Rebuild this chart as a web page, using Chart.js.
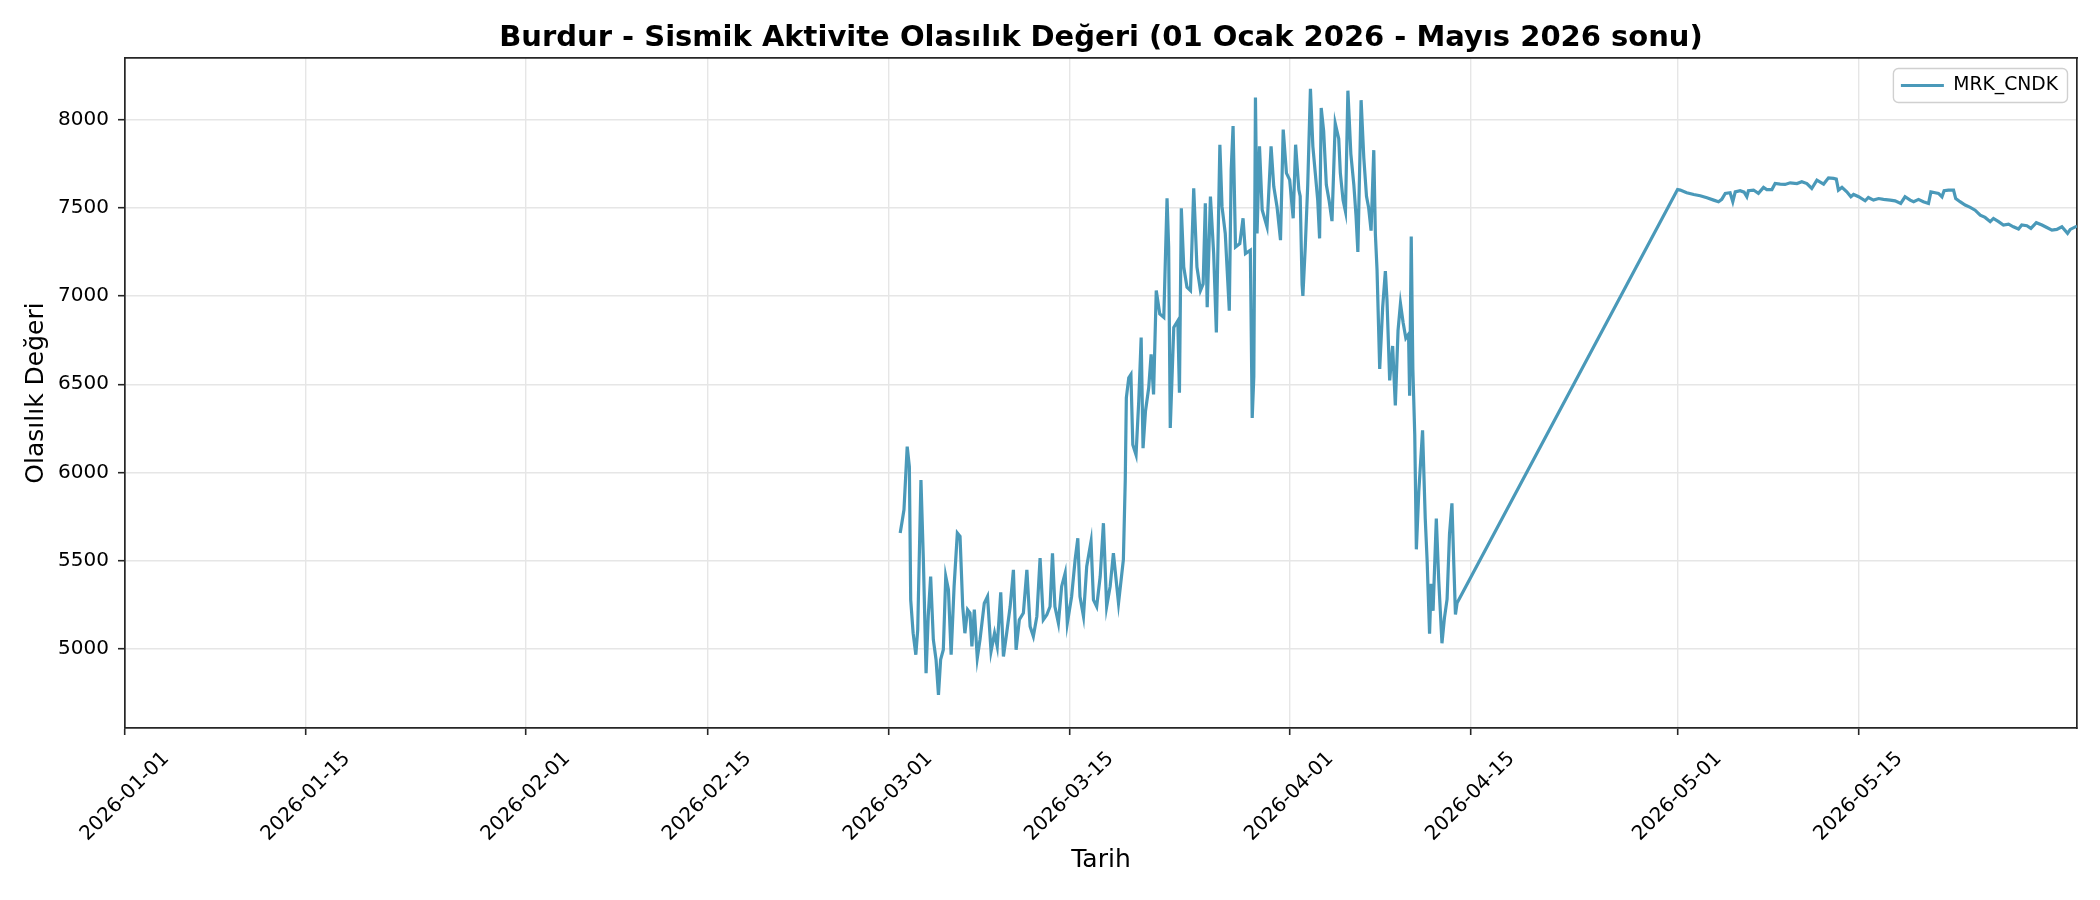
<!DOCTYPE html>
<html><head><meta charset="utf-8">
<script src="https://cdn.jsdelivr.net/npm/chart.js@4.4.0/dist/chart.umd.min.js"></script>
<style>html,body{margin:0;padding:0;background:#fff;}canvas{display:block}</style>
</head><body>
<canvas id="c" width="2100" height="900" style="width:2100px;height:900px"></canvas>
<script>
const chartTitle = 'Burdur - Sismik Aktivite Olasılık Değeri (01 Ocak 2026 - Mayıs 2026 sonu)';
const seriesName = 'MRK_CNDK';
const xAxisTitle = 'Tarih';
const yAxisTitle = 'Olasılık Değeri';
const xTickLabels = ['2026-01-01','2026-01-15','2026-02-01','2026-02-15','2026-03-01','2026-03-15','2026-04-01','2026-04-15','2026-05-01','2026-05-15'];
const yTickValues = [5000,5500,6000,6500,7000,7500,8000];
const xStart = '2026-01-01T00:00';
const yRange = [4553, 8348];

const times = [
'2026-03-01T22:00','2026-03-02T01:00','2026-03-02T05:00','2026-03-02T11:00','2026-03-02T15:00','2026-03-02T17:30','2026-03-02T22:00',
'2026-03-03T03:00','2026-03-03T06:30','2026-03-03T12:30','2026-03-03T17:00','2026-03-03T22:00',
'2026-03-04T02:00','2026-03-04T06:30','2026-03-04T11:30','2026-03-04T16:30','2026-03-04T21:00',
'2026-03-05T01:00','2026-03-05T06:00','2026-03-05T10:30','2026-03-05T15:30','2026-03-05T20:30',
'2026-03-06T02:00','2026-03-06T08:00','2026-03-06T13:00','2026-03-06T18:00','2026-03-06T22:00',
'2026-03-07T03:00','2026-03-07T07:30','2026-03-07T11:00','2026-03-07T15:30','2026-03-07T21:00',
'2026-03-08T02:00','2026-03-08T10:00','2026-03-08T16:00','2026-03-08T22:30',
'2026-03-09T05:00','2026-03-09T10:00','2026-03-09T16:30','2026-03-09T21:30',
'2026-03-10T03:30','2026-03-10T10:00','2026-03-10T16:00','2026-03-10T21:00',
'2026-03-11T03:00','2026-03-11T10:30','2026-03-11T17:00','2026-03-11T23:00',
'2026-03-12T05:00','2026-03-12T11:30','2026-03-12T17:30','2026-03-12T23:30',
'2026-03-13T06:00','2026-03-13T12:00','2026-03-13T16:30','2026-03-13T21:00',
'2026-03-14T03:30','2026-03-14T09:30','2026-03-14T16:00','2026-03-14T20:00',
'2026-03-15T04:00','2026-03-15T10:30','2026-03-15T15:30','2026-03-15T19:30',
'2026-03-16T02:00','2026-03-16T08:00','2026-03-16T16:00','2026-03-16T20:30',
'2026-03-17T02:30','2026-03-17T09:00','2026-03-17T15:00','2026-03-17T21:00',
'2026-03-18T03:30','2026-03-18T09:30','2026-03-18T19:00',
'2026-03-19T04:00','2026-03-19T07:30','2026-03-19T09:30','2026-03-19T14:00','2026-03-19T18:00','2026-03-19T21:30',
'2026-03-20T03:30','2026-03-20T08:30','2026-03-20T13:00','2026-03-20T16:30','2026-03-20T21:00',
'2026-03-21T03:00','2026-03-21T07:30','2026-03-21T12:00','2026-03-21T17:00','2026-03-21T23:30',
'2026-03-22T07:00','2026-03-22T13:00','2026-03-22T16:00','2026-03-22T19:00',
'2026-03-23T01:30','2026-03-23T09:00','2026-03-23T12:00','2026-03-23T15:30','2026-03-23T20:00',
'2026-03-24T02:00','2026-03-24T08:30','2026-03-24T14:30','2026-03-24T20:30',
'2026-03-25T03:00','2026-03-25T08:00','2026-03-25T12:00','2026-03-25T15:30','2026-03-25T21:30',
'2026-03-26T03:30','2026-03-26T08:30','2026-03-26T15:00','2026-03-26T19:00',
'2026-03-27T01:00','2026-03-27T08:30','2026-03-27T12:00','2026-03-27T15:30','2026-03-27T20:00',
'2026-03-28T04:00','2026-03-28T10:00','2026-03-28T14:30','2026-03-28T23:30',
'2026-03-29T03:00','2026-03-29T06:00','2026-03-29T09:00','2026-03-29T12:00','2026-03-29T16:30','2026-03-29T21:30',
'2026-03-30T06:30','2026-03-30T14:00','2026-03-30T19:00',
'2026-03-31T01:00','2026-03-31T07:30','2026-03-31T12:30','2026-03-31T18:30',
'2026-04-01T00:30','2026-04-01T07:00','2026-04-01T11:30','2026-04-01T17:30','2026-04-01T20:00','2026-04-01T23:30',
'2026-04-02T01:00','2026-04-02T05:30','2026-04-02T10:00','2026-04-02T15:00','2026-04-02T19:30',
'2026-04-03T00:00','2026-04-03T04:30','2026-04-03T08:00','2026-04-03T11:00','2026-04-03T15:30','2026-04-03T20:30',
'2026-04-04T01:30','2026-04-04T07:00','2026-04-04T13:00','2026-04-04T19:30','2026-04-04T22:30',
'2026-04-05T03:30','2026-04-05T08:00','2026-04-05T12:30','2026-04-05T18:00','2026-04-05T23:30',
'2026-04-06T03:30','2026-04-06T07:00','2026-04-06T13:00','2026-04-06T18:00','2026-04-06T23:00',
'2026-04-07T03:00','2026-04-07T07:30','2026-04-07T12:30','2026-04-07T15:30','2026-04-07T18:30','2026-04-07T23:30',
'2026-04-08T05:00','2026-04-08T10:00','2026-04-08T13:00','2026-04-08T18:00','2026-04-08T23:30',
'2026-04-09T04:30','2026-04-09T09:30','2026-04-09T14:00','2026-04-09T19:00',
'2026-04-10T00:00','2026-04-10T05:00','2026-04-10T07:00','2026-04-10T10:00','2026-04-10T13:00','2026-04-10T16:30','2026-04-10T19:30',
'2026-04-11T00:00','2026-04-11T07:00','2026-04-11T12:00','2026-04-11T15:30','2026-04-11T20:00','2026-04-11T23:00',
'2026-04-12T02:30','2026-04-12T08:30','2026-04-12T13:00','2026-04-12T19:00','2026-04-12T23:30',
'2026-04-13T04:30','2026-04-13T09:00','2026-04-13T13:30','2026-04-13T17:00','2026-04-13T20:00','2026-04-13T23:00',
'2026-05-01T00:00','2026-05-01T05:00','2026-05-01T17:00','2026-05-02T06:00','2026-05-02T18:00',
'2026-05-03T06:30','2026-05-03T19:00','2026-05-04T04:00','2026-05-04T10:00','2026-05-04T16:30',
'2026-05-05T01:30','2026-05-05T06:30','2026-05-05T11:00','2026-05-05T20:00',
'2026-05-06T03:30','2026-05-06T08:30','2026-05-06T11:30','2026-05-06T21:00',
'2026-05-07T06:00','2026-05-07T15:30','2026-05-07T21:30','2026-05-08T07:00','2026-05-08T13:00','2026-05-08T22:30',
'2026-05-09T07:30','2026-05-09T17:00','2026-05-10T05:30','2026-05-10T14:30','2026-05-11T00:00','2026-05-11T09:00','2026-05-11T18:30',
'2026-05-12T07:00','2026-05-12T16:00','2026-05-13T01:30','2026-05-13T06:30','2026-05-13T10:30','2026-05-13T17:00',
'2026-05-14T02:00','2026-05-14T09:30','2026-05-14T14:30','2026-05-15T00:00','2026-05-15T12:00','2026-05-15T18:00',
'2026-05-16T03:30','2026-05-16T13:00','2026-05-16T22:00','2026-05-17T10:30','2026-05-17T19:30',
'2026-05-18T06:00','2026-05-18T14:00','2026-05-18T23:30','2026-05-19T06:00','2026-05-19T15:00',
'2026-05-20T00:00','2026-05-20T09:30','2026-05-20T14:00','2026-05-20T22:00',
'2026-05-21T04:00','2026-05-21T10:30','2026-05-21T14:30','2026-05-21T22:30',
'2026-05-22T08:00','2026-05-22T12:00','2026-05-22T20:00','2026-05-23T05:30','2026-05-23T15:00',
'2026-05-24T00:00','2026-05-24T09:30','2026-05-24T18:30','2026-05-25T04:00','2026-05-25T10:00','2026-05-25T19:30',
'2026-05-26T04:30','2026-05-26T14:00','2026-05-26T23:00','2026-05-27T08:30','2026-05-27T14:30',
'2026-05-28T00:00','2026-05-28T07:30','2026-05-28T17:30','2026-05-29T04:00','2026-05-29T13:00','2026-05-29T22:30',
'2026-05-30T07:30','2026-05-30T17:00','2026-05-31T03:30','2026-05-31T08:30','2026-05-31T21:00'
];
const values = [
5657,5713,5789,6147,6034,5279,5090,
4968,5109,5958,5505,4864,
5185,5411,5053,4940,4741,
4940,4996,5411,5336,4968,
5355,5657,5638,5241,5090,
5223,5204,5015,5223,4949,
5053,5260,5298,4987,
5090,5015,5321,4958,
5090,5241,5449,4996,
5166,5204,5449,5128,
5072,5185,5515,5166,
5194,5241,5543,5241,
5147,5355,5430,5147,
5298,5506,5628,5298,
5185,5468,5609,5279,
5241,5411,5713,5241,
5355,5543,5260,
5506,5957,6423,6537,6556,6157,
6100,6404,6765,6138,6347,
6480,6670,6442,7031,6898,
6879,7553,7278,6252,
6822,6860,6452,7497,7164,
7050,7031,7610,7164,
7031,7069,7525,6936,7563,
7240,6793,7857,7506,
7354,6917,7715,7962,7278,
7297,7440,7240,7259,
6309,6546,8124,7354,7848,7487,
7392,7848,7620,
7506,7316,7943,7696,
7658,7440,7857,7601,7565,7065,
7000,7283,7630,8174,7848,
7696,7543,7326,8065,7935,7630,
7543,7424,7978,7891,7696,
7543,7478,8163,7804,7630,
7456,7250,8109,7783,7565,
7500,7370,7826,7348,7152,6587,
6935,7141,6978,6522,6717,
6380,6804,6957,6848,
6761,6783,6435,7337,6587,6217,5565,
5891,6239,5739,5500,5087,5370,
5217,5739,5391,5033,5174,
5283,5652,5826,5478,5196,5261,
7603,7600,7585,7575,7568,
7556,7543,7534,7547,7581,
7585,7534,7590,7596,
7588,7562,7596,7600,
7581,7615,7603,7603,7637,7634,
7632,7641,7637,7647,7637,7609,7656,
7634,7669,7666,7662,7600,7615,
7590,7562,7575,7562,7539,7558,
7543,7552,7547,7543,7539,
7524,7562,7543,7534,7547,
7534,7524,7590,7585,
7581,7562,7596,7600,
7600,7552,7534,7515,7502,
7486,7458,7445,7421,7439,7421,
7402,7407,7392,7379,7402,
7398,7383,7415,7402,7388,7373,
7377,7392,7355,7377,7396
];

const toMs = s => Date.parse((s.length === 10 ? s + 'T00:00' : s) + ':00Z');
const points = times.map((t, i) => ({x: toMs(t), y: values[i]}));

Chart.defaults.font.family = "'DejaVu Sans', sans-serif";
Chart.defaults.color = '#000';

const FRAME = '#262626';
const GRID = '#e6e6e6';

const legendPlace = {
  id: 'legendPlace',
  afterLayout(chart) {
    const lg = chart.legend, ca = chart.chartArea;
    const w = lg.width, h = lg.height;
    lg.left = ca.right - w - 9; lg.right = lg.left + w;
    lg.top = ca.top + 10; lg.bottom = lg.top + h;
  },
  afterDraw(chart) {
    const lg = chart.legend, ctx = chart.ctx;
    ctx.save();
    ctx.strokeStyle = '#d0d0d0';
    ctx.lineWidth = 1.4;
    ctx.beginPath();
    ctx.roundRect(lg.left + 0.5, lg.top + 0.5, lg.width - 1, lg.height - 1, 5);
    ctx.stroke();
    ctx.restore();
  }
};

new Chart(document.getElementById('c'), {
  type: 'line',
  data: {
    datasets: [{
      label: seriesName,
      data: points,
      borderColor: '#4a99b9',
      backgroundColor: '#4a99b9',
      borderWidth: 3.2,
      pointRadius: 0,
      tension: 0,
      fill: false
    }]
  },
  options: {
    responsive: false,
    devicePixelRatio: 1,
    animation: false,
    layout: { padding: { left: 0, right: 23, top: 0, bottom: 0 } },
    plugins: {
      title: { display: false },
      legend: {
        position: 'chartArea',
        maxHeight: 35,
        labels: {
          usePointStyle: true, pointStyle: 'line', pointStyleWidth: 43,
          padding: 8, color: '#000', font: { size: 18.75 }
        }
      },
      tooltip: { enabled: false }
    },
    scales: {
      x: {
        type: 'linear', position: 'bottom',
        min: toMs(xStart), max: toMs(times[times.length - 1]),
        afterBuildTicks: s => { s.ticks = xTickLabels.map(l => ({ value: toMs(l) })); },
        afterFit: s => { s.height = 172; s.paddingLeft = 0; s.paddingRight = 0; },
        ticks: {
          autoSkip: false, minRotation: 45, maxRotation: 45,
          padding: 12, labelOffset: 41, color: '#000', font: { size: 20 },
          callback: (v, i) => xTickLabels[i]
        },
        grid: { color: GRID, lineWidth: 1.4, tickColor: FRAME, tickLength: 7, tickWidth: 1.6 },
        border: { display: true, color: FRAME, width: 1.7 },
        title: { display: true, text: xAxisTitle, color: '#000', font: { size: 25 }, padding: { top: 0, bottom: 25 } }
      },
      y: {
        type: 'linear', position: 'left',
        min: yRange[0], max: yRange[1],
        afterBuildTicks: s => { s.ticks = yTickValues.map(v => ({ value: v })); },
        afterFit: s => { s.width = 125; s.paddingTop = 0; s.paddingBottom = 0; },
        ticks: { padding: 9, color: '#000', font: { size: 20 }, callback: v => String(v) },
        grid: { color: GRID, lineWidth: 1.4, tickColor: FRAME, tickLength: 7, tickWidth: 1.6 },
        border: { display: true, color: FRAME, width: 1.7 },
        title: { display: true, text: yAxisTitle, color: '#000', font: { size: 25 }, padding: { top: 21, bottom: 0 } }
      },
      xTop: {
        type: 'linear', position: 'top', display: true,
        grid: { display: false }, ticks: { display: false },
        border: { display: true, color: FRAME, width: 1.7 },
        title: { display: true, text: chartTitle, color: '#000', font: { size: 29, weight: 'bold' }, padding: { top: 21, bottom: 0 } },
        afterFit: s => { s.height = 58; }
      },
      yRight: {
        type: 'linear', position: 'right', display: true,
        grid: { display: false }, ticks: { display: false },
        border: { display: true, color: FRAME, width: 1.7 },
        afterFit: s => { s.width = 0; }
      }
    }
  },
  plugins: [legendPlace]
});
</script>
</body></html>
